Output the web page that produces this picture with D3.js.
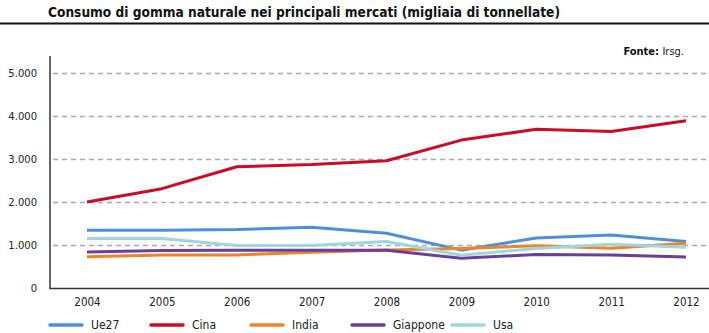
<!DOCTYPE html>
<html>
<head>
<meta charset="utf-8">
<script src="https://cdn.jsdelivr.net/npm/d3@7"></script>
<style>
  body { margin: 0; background: #fff; }
  svg { display: block; }
  .cond { font-family: "Liberation Sans Narrow", "DejaVu Sans Condensed", "Roboto", sans-serif; }
</style>
</head>
<body>
<div id="chart"></div>
<script>
const years = ['2004', '2005', '2006', '2007', '2008', '2009', '2010', '2011', '2012']
const yTicks = [0, 1000, 2000, 3000, 4000, 5000]

const ue27 = [1345, 1345, 1360, 1415, 1275, 880, 1165, 1235, 1080]
const cina = [2000, 2310, 2820, 2870, 2960, 3440, 3690, 3640, 3890]
const india = [725, 770, 770, 830, 885, 920, 980, 925, 1040]
const giappone = [840, 870, 878, 878, 878, 690, 780, 770, 723]
const usa = [1150, 1150, 987, 987, 1080, 760, 920, 1018, 950]

const series = [
  { name: 'Ue27', values: ue27, color: '#4d8fd8' },
  { name: 'Cina', values: cina, color: '#cf0a24' },
  { name: 'India', values: india, color: '#ef8424' },
  { name: 'Giappone', values: giappone, color: '#6a3f9c' },
  { name: 'Usa', values: usa, color: '#9ed6dc' }
]

const width = 709, height = 333
const margin = { top: 56, right: 0, bottom: 45, left: 50 }

const svg = d3.select('#chart').append('svg')
  .attr('width', width).attr('height', height)

// header
svg.append('text')
  .attr('class', 'cond')
  .attr('x', 48).attr('y', 17)
  .attr('font-size', 14).attr('font-weight', 'bold')
  .attr('fill', '#111')
  .attr('textLength', 512).attr('lengthAdjust', 'spacingAndGlyphs')
  .text('Consumo di gomma naturale nei principali mercati (migliaia di tonnellate)')

svg.append('line')
  .attr('x1', 0).attr('x2', width).attr('y1', 23.5).attr('y2', 23.5)
  .attr('stroke', '#111').attr('stroke-width', 2)

const fonte = svg.append('text')
  .attr('class', 'cond')
  .attr('x', 684).attr('y', 55)
  .attr('text-anchor', 'end').attr('font-size', 11).attr('fill', '#111')
fonte.append('tspan').attr('font-weight', 'bold').text('Fonte: ')
fonte.append('tspan').text('Irsg.')

const x = d3.scalePoint()
  .domain(years)
  .range([87, 686])

const y = d3.scaleLinear()
  .domain([0, 5000])
  .range([288, 73])

// dashed grid
svg.append('g')
  .selectAll('line')
  .data(yTicks.filter(d => d > 0))
  .join('line')
  .attr('x1', margin.left + 3).attr('x2', width)
  .attr('y1', d => Math.round(y(d)) + 0.5).attr('y2', d => Math.round(y(d)) + 0.5)
  .attr('stroke', '#a9a9b0').attr('stroke-width', 1.3)
  .attr('stroke-dasharray', '5,4')

// y axis
const yAxis = svg.append('g')
  .attr('transform', `translate(${margin.left},0)`)
  .call(d3.axisLeft(y)
    .tickValues(yTicks)
    .tickFormat(d => d3.format(',')(d).replace(/,/g, '.'))
    .tickSize(0)
    .tickPadding(13))
yAxis.select('.domain').remove()
yAxis.selectAll('text')
  .attr('font-family', 'DejaVu Sans, Verdana, sans-serif')
  .attr('font-size', 10).attr('fill', '#222')

svg.append('line')
  .attr('x1', margin.left).attr('x2', margin.left)
  .attr('y1', margin.top).attr('y2', 289)
  .attr('stroke', '#333').attr('stroke-width', 1.5)

// x axis
const xAxis = svg.append('g')
  .attr('transform', 'translate(0,288)')
  .call(d3.axisBottom(x).tickSize(0).tickPadding(10))
xAxis.select('.domain').remove()
xAxis.selectAll('text')
  .attr('class', 'cond')
  .attr('font-size', 11.5).attr('fill', '#222')

svg.append('line')
  .attr('x1', margin.left).attr('x2', width)
  .attr('y1', 288.5).attr('y2', 288.5)
  .attr('stroke', '#333').attr('stroke-width', 1.5)

// series lines
const line = d3.line()
  .x((d, i) => x(years[i]))
  .y(d => y(d))

svg.append('g')
  .selectAll('path')
  .data(series)
  .join('path')
  .attr('d', d => line(d.values))
  .attr('fill', 'none')
  .attr('stroke', d => d.color)
  .attr('stroke-width', 3)
  .attr('stroke-linejoin', 'round')

// legend
const legendX = [50, 151, 251, 352, 452]
const legend = svg.append('g')
  .selectAll('g')
  .data(series)
  .join('g')
  .attr('transform', (d, i) => `translate(${legendX[i]},325)`)

legend.append('line')
  .attr('x1', 0).attr('x2', 32)
  .attr('stroke', d => d.color).attr('stroke-width', 3.5)
  .attr('stroke-linecap', 'round')

legend.append('text')
  .attr('class', 'cond')
  .attr('x', 41).attr('y', 4)
  .attr('font-size', 12).attr('fill', '#222')
  .text(d => d.name)
</script>
</body>
</html>
